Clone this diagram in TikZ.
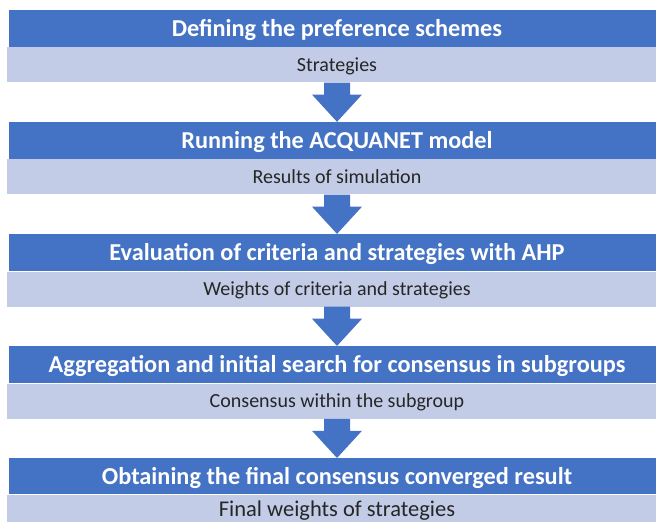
\documentclass[tikz,border=0pt]{standalone}
\usepackage{fontspec}
\setmainfont{Carlito}
\usetikzlibrary{positioning,calc}
\definecolor{hblue}{HTML}{4472C4}
\definecolor{lblue}{HTML}{C2CCE6}

\begin{document}
\begin{tikzpicture}[x=1pt,y=1pt]

	\tikzstyle{head}=[rectangle,fill=hblue,text=white,font=\fontsize{24.3}{28}\selectfont\bfseries,minimum width=656pt,minimum height=37pt,inner sep=0pt,text height=19pt,text depth=3.4pt]
	\tikzstyle{sub}=[rectangle,fill=lblue,text=black!85,font=\fontsize{20}{24}\selectfont,minimum width=660pt,minimum height=35pt,inner sep=0pt,text height=16.6pt,text depth=3pt]
	\tikzstyle{blockarrow}=[fill=hblue]

	\useasboundingbox (0,0) rectangle (656,-522);

	\node [head] (h1) at (337,-28.5)		{Defining the preference schemes};
	\node [sub] (s1) [below=0pt of h1]		{Strategies};
	\node [head] (h2) [below=39.25pt of s1]	{Running the ACQUANET model};
	\node [sub] (s2) [below=0pt of h2]		{Results of simulation};
	\node [head] (h3) [below=39.25pt of s2]	{Evaluation of criteria and strategies with AHP};
	\node [sub] (s3) [below=0pt of h3]		{Weights of criteria and strategies};
	\node [head] (h4) [below=39.25pt of s3]	{Aggregation and initial search for consensus in subgroups};
	\node [sub] (s4) [below=0pt of h4]		{Consensus within the subgroup};
	\node [head] (h5) [below=39.25pt of s4,minimum height=36pt]
		{Obtaining the final consensus converged result};
	\node [sub] (s5) [below=0pt of h5,font=\fontsize{22.5}{26}\selectfont,text height=13pt,text depth=5pt]
		{Final weights of strategies};

	% block arrows between the steps
	\foreach \a/\b in {s1/h2,s2/h3,s3/h4,s4/h5}
		\fill [blockarrow] ($(\a.south)+(-13,0)$) -- ($(\a.south)+(13,0)$) -- ($(\a.south)+(13,-12)$)
			-- ($(\a.south)+(25,-12)$) -- (\b.north) -- ($(\a.south)+(-25,-12)$)
			-- ($(\a.south)+(-13,-12)$) -- cycle;
\end{tikzpicture}
\end{document}
